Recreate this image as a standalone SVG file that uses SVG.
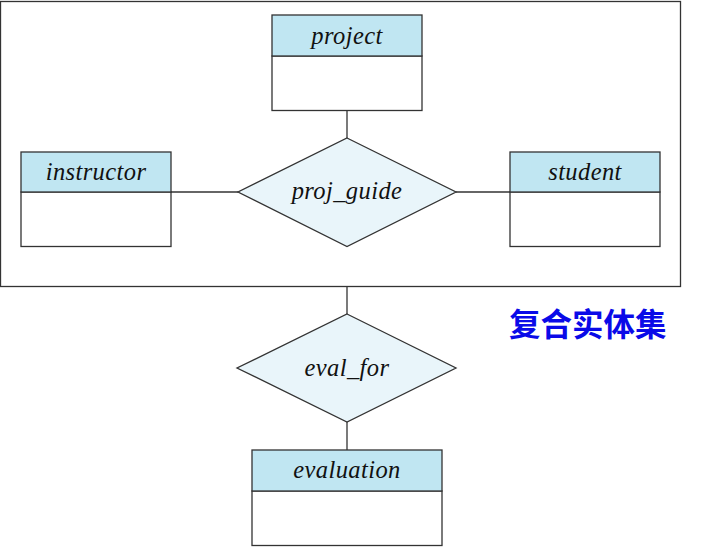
<svg xmlns="http://www.w3.org/2000/svg" width="711" height="547" viewBox="0 0 711 547">
<style>
.hdr{fill:#c0e6f2;stroke:#333;stroke-width:1.3}
.body{fill:#fff;stroke:#333;stroke-width:1.3}
.rel{fill:#e9f5fa;stroke:#333;stroke-width:1.3}
.ln{stroke:#333;stroke-width:1.3;fill:none}
.t{font-family:"Liberation Serif","DejaVu Serif",serif;font-style:italic;font-size:24.5px;letter-spacing:0.4px;fill:#111;text-anchor:middle}
.cn{font-family:"Noto Sans CJK SC",sans-serif;font-weight:bold;font-size:31.5px;fill:#0a0ae8}
</style>
<rect width="711" height="547" fill="#fff"/>
<g id="aggregate">
<rect x="0.5" y="1.5" width="680" height="285" class="ln" stroke-width="1.5"/>
</g>
<g id="connectors">
<line x1="347" y1="111" x2="347" y2="138" class="ln"/>
<line x1="171" y1="192" x2="238" y2="192" class="ln"/>
<line x1="456" y1="192" x2="510" y2="192" class="ln"/>
<line x1="347" y1="287" x2="347" y2="314" class="ln"/>
<line x1="347" y1="422" x2="347" y2="450" class="ln"/>
</g>
<g id="project">
<rect x="272" y="56" width="150" height="54.5" class="body"/>
<rect x="272" y="15" width="150" height="41" class="hdr"/>
<text x="347" y="44" class="t">project</text>
</g>
<g id="instructor">
<rect x="21" y="192" width="150" height="54.5" class="body"/>
<rect x="21" y="152" width="150" height="40" class="hdr"/>
<text x="96" y="180" class="t">instructor</text>
</g>
<g id="student">
<rect x="510" y="192" width="150" height="54.5" class="body"/>
<rect x="510" y="152" width="150" height="40" class="hdr"/>
<text x="585" y="180" class="t">student</text>
</g>
<g id="proj_guide">
<polygon points="347,138 456,192 347,246.5 238,192" class="rel"/>
<text x="347" y="199" class="t">proj_guide</text>
</g>
<g id="eval_for">
<polygon points="347,314 456,368 347,422 237,368" class="rel"/>
<text x="347" y="376" class="t">eval_for</text>
</g>
<g id="evaluation">
<rect x="252" y="491" width="190" height="54.5" class="body"/>
<rect x="252" y="450" width="190" height="41" class="hdr"/>
<text x="347" y="478" class="t">evaluation</text>
</g>
<text x="509" y="336" class="cn">复合实体集</text>
</svg>
